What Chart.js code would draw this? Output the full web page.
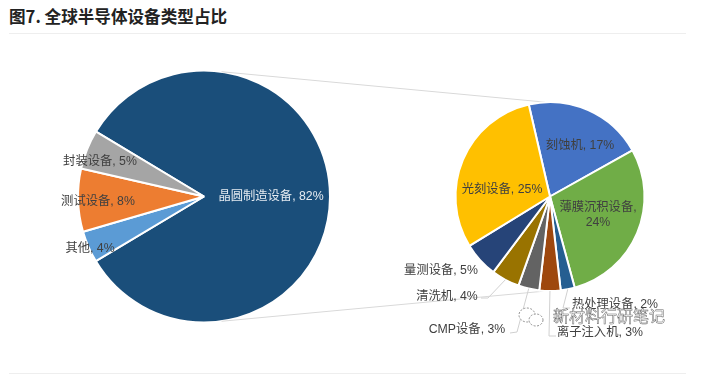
<!DOCTYPE html>
<html>
<head>
<meta charset="utf-8">
<title>图7</title>
<script src="https://cdn.jsdelivr.net/npm/chart.js@4"></script>
<style>
    body { margin: 0; background: #fff; }
    #wrap { position: relative; width: 702px; height: 383px; overflow: hidden; font-family: "Noto Sans CJK SC", sans-serif; }
    canvas { position: absolute; left: 0; top: 0; }
    #title { position: absolute; left: 9px; top: 5px; font-size: 16.6px; line-height: 22px; font-weight: 700; color: #222; }
    .rule { position: absolute; left: 9px; width: 677px; height: 1px; background: #eee; }
    #mark { position: absolute; left: 553px; top: 303px; font-size: 16px; line-height: 24px; color: #fff; -webkit-text-stroke: 0.5px #666; white-space: nowrap; }
    #icon { position: absolute; left: 516px; top: 306px; }
</style>
</head>
<body>
<div id="wrap">
    <div id="title">图7. 全球半导体设备类型占比</div>
    <div class="rule" style="top:33px"></div>
    <div class="rule" style="top:373px"></div>
    <canvas id="mainPie" width="702" height="383"></canvas>
    <canvas id="detailPie" width="702" height="383"></canvas>
    <svg id="icon" width="32" height="24" fill="#fff" stroke="#777" stroke-width="0.8" stroke-dasharray="2 1.5">
        <ellipse cx="11" cy="9" rx="8" ry="7"></ellipse>
        <ellipse cx="20" cy="14" rx="7" ry="6"></ellipse>
    </svg>
    <div id="mark">新材料行研笔记</div>
</div>
<script>
// Left pie
const mainCategories = ['晶圆制造设备', '其他', '测试设备', '封装设备'];
const mainValues = [82, 4, 8, 5];
const mainColors = ['#1A4E7A', '#5B9BD5', '#ED7D31', '#A5A5A5'];

// Right pie
const detailCategories = ['刻蚀机', '薄膜沉积设备', '热处理设备', '离子注入机', 'CMP设备', '清洗机', '量测设备', '光刻设备'];
const detailValues = [17, 24, 2, 3, 3, 4, 5, 25];
const detailColors = ['#4472C4', '#70AD47', '#255E91', '#9E480E', '#636363', '#997300', '#264478', '#FFC000'];

// Label centres, same order as the categories
const mainLabelPos = [[271, 197], [90, 249], [98, 202], [100, 162]];
const detailLabelPos = [[580, 146], [598, 215], [615, 305], [600, 333], [467, 330], [447, 297], [441, 271], [502, 190]];

// Elbows of the leader lines, keyed by slice index
const detailLeaders = {
    2: [[563, 308], [570, 308]],
    3: [[549, 336], [556, 336]],
    4: [[517, 332], [510, 333]],
    5: [[488, 298], [481, 298]]
};

const LABEL_COLOR = '#404040';

function angleFromTop(deg) {
    return (deg - 90) * Math.PI / 180;
}

function drawLabels(chart, cats, vals, positions, leaders) {
    const ctx = chart.ctx;
    const arcs = chart.getDatasetMeta(0).data;
    ctx.save();

    // leader lines first so the text sits over them
    ctx.strokeStyle = '#d0d0d0';
    ctx.lineWidth = 1;
    Object.keys(leaders).forEach(i => {
        const arc = arcs[i];
        const mid = (arc.startAngle + arc.endAngle) / 2;
        ctx.beginPath();
        ctx.moveTo(arc.x + arc.outerRadius * Math.cos(mid), arc.y + arc.outerRadius * Math.sin(mid));
        leaders[i].forEach(p => ctx.lineTo(p[0], p[1]));
        ctx.stroke();
    });

    ctx.font = '12.3px "Liberation Sans", "Noto Sans CJK SC", sans-serif';
    ctx.textAlign = 'center';
    ctx.textBaseline = 'middle';
    cats.forEach((cat, i) => {
        const [x, y] = positions[i];
        ctx.fillStyle = cat === '晶圆制造设备' ? '#E6ECF2' : LABEL_COLOR;
        if (cat === '薄膜沉积设备') {
            ctx.fillText(cat + ',', x, y - 7);
            ctx.fillText(vals[i] + '%', x, y + 8);
        } else {
            ctx.fillText(cat + ', ' + vals[i] + '%', x, y);
        }
    });
    ctx.restore();
}

function pieOptions(rotation, padding) {
    return {
        responsive: false,
        animation: false,
        rotation: rotation,
        layout: { padding: padding },
        plugins: { legend: { display: false }, tooltip: { enabled: false } }
    };
}

const mainChart = new Chart(document.getElementById('mainPie').getContext('2d'), {
    type: 'pie',
    data: {
        labels: mainCategories,
        datasets: [{ data: mainValues, backgroundColor: mainColors, borderColor: '#fff', borderWidth: 2 }]
    },
    options: pieOptions(-59, { left: 77, right: 371, top: 69, bottom: 59 }),
    plugins: [{
        id: 'mainLabels',
        afterDatasetsDraw: chart => drawLabels(chart, mainCategories, mainValues, mainLabelPos, {})
    }]
});

new Chart(document.getElementById('detailPie').getContext('2d'), {
    type: 'pie',
    data: {
        labels: detailCategories,
        datasets: [{ data: detailValues, backgroundColor: detailColors, borderColor: '#fff', borderWidth: 2 }]
    },
    options: pieOptions(-13, { left: 454, right: 56, top: 101, bottom: 91 }),
    plugins: [{
        id: 'detailLabels',
        // the two lines joining the pies
        beforeDatasetsDraw: chart => {
            const a = mainChart.getDatasetMeta(0).data[0];
            const b = chart.getDatasetMeta(0).data[0];
            const ctx = chart.ctx;
            ctx.save();
            ctx.strokeStyle = '#d9d9d9';
            ctx.lineWidth = 1;
            [[8, -3], [172, 182]].forEach(pair => {
                const from = angleFromTop(pair[0]);
                const to = angleFromTop(pair[1]);
                ctx.beginPath();
                ctx.moveTo(a.x + a.outerRadius * Math.cos(from), a.y + a.outerRadius * Math.sin(from));
                ctx.lineTo(b.x + b.outerRadius * Math.cos(to), b.y + b.outerRadius * Math.sin(to));
                ctx.stroke();
            });
            ctx.restore();
        },
        afterDatasetsDraw: chart => drawLabels(chart, detailCategories, detailValues, detailLabelPos, detailLeaders)
    }]
});
</script>
</body>
</html>
